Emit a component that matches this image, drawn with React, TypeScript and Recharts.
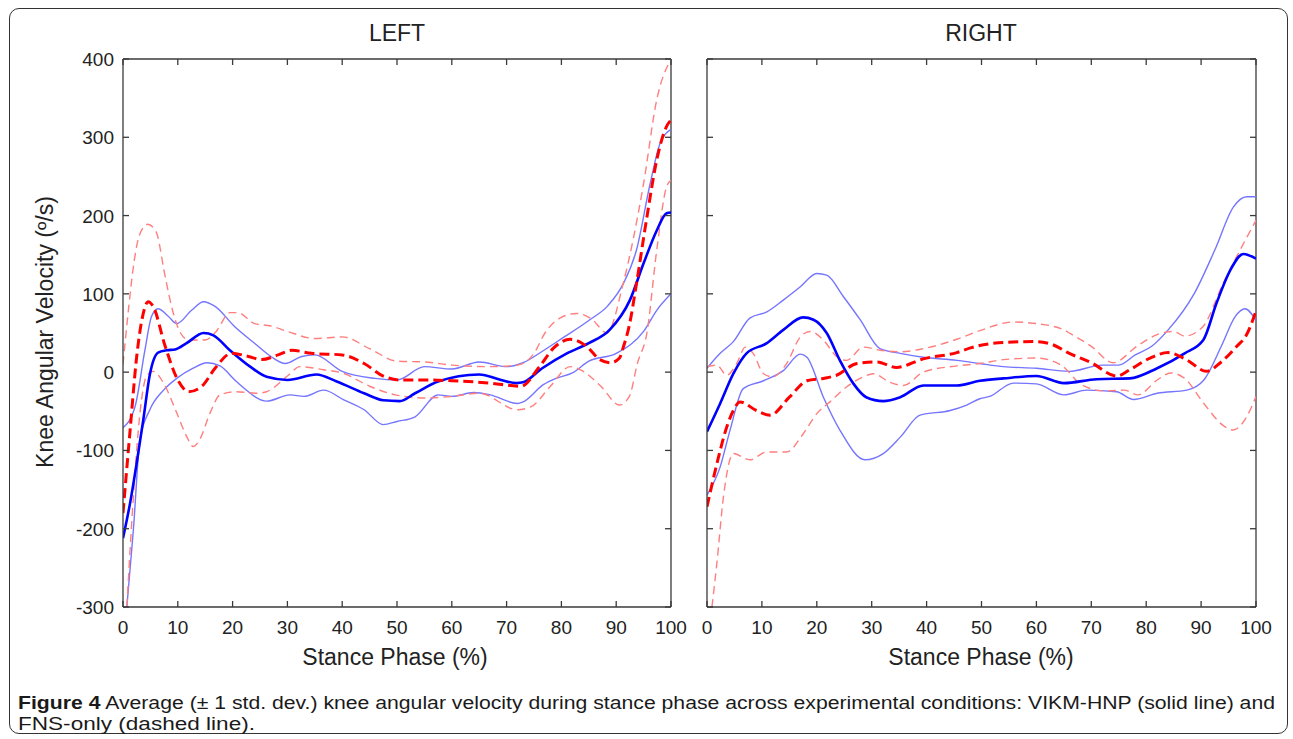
import React from 'react';
import { LineChart, Line, XAxis, YAxis, ReferenceLine } from 'recharts';

type P = [number, number][];

const xTicks = [0, 10, 20, 30, 40, 50, 60, 70, 80, 90, 100];
const yTicks = [-300, -200, -100, 0, 100, 200, 300, 400];
const panelTitles = ['LEFT', 'RIGHT'];
const xLabel = 'Stance Phase (%)';
const yLabel = 'Knee Angular Velocity (º/s)';

// LEFT panel
const leftBlueMean: P = [[0,-212],[1.3,-167],[2.5,-116],[3.7,-61],[4.9,-3],[6.4,25],[8,28],[9.5,29],[11.6,37],[14.7,50],[16.5,47],[19.5,28],[23.2,7],[26.2,-6],[30,-10],[35.3,-3],[39,-12],[44,-27],[47.5,-36],[50.5,-37],[53.3,-27],[57.5,-12],[65,-3],[69,-10],[71.8,-14],[73,-13],[76.5,5],[81,24],[85,37],[88.8,54],[92.5,92],[95,139],[97.4,181],[99.2,203],[100,204]];
const leftBlueUpper: P = [[0,-71],[2.2,-44],[4,28],[5.2,71],[6.4,81],[8.3,71],[9.8,62],[12.5,79],[14.7,90],[16.8,84],[20.4,58],[24,37],[27,20],[29.6,11],[32.6,20],[35,22],[40,1],[46,-8],[50,-10],[55,7],[60,4],[65,13],[70,7],[73,12],[76.6,27],[80.3,44],[85,66],[88.5,85],[91.3,113],[93.7,156],[96.2,241],[98,292],[100,310]];
const leftBlueLower: P = [[0.7,-300],[1.9,-201],[3.1,-86],[4.9,-48],[7.4,-23],[9.8,-8],[12.8,5],[15.3,12],[17.7,8],[20.4,-10],[22,-20],[26.2,-37],[30.5,-29],[33,-31],[36.6,-23],[40.2,-35],[44,-48],[47.5,-67],[50,-63],[53.3,-57],[57.5,-29],[60,-31],[64,-26],[67,-29],[72,-40],[73,-38],[76.7,-16],[79,-8],[82,-1],[85,14],[90,24],[95,52],[97.4,79],[100,100]];
const leftRedMean: P = [[0,-180],[1.3,-74],[2.5,20],[3.4,65],[4.6,90],[5.5,84],[7.7,33],[10,-10],[12,-25],[14.4,-18],[16.8,5],[19.8,24],[22.9,20],[25.3,16],[28.3,22],[30.8,28],[34.4,24],[40,22],[44,11],[47.5,-5],[50.5,-10],[55,-10],[60,-11],[67,-14],[72.6,-18],[76,7],[78.6,31],[81.6,42],[84.6,33],[87,16],[89,12],[90.6,18],[91.3,32],[92.4,60],[93.7,113],[95.6,198],[97.4,271],[99.2,314],[100,322]];
const leftRedUpper: P = [[0,10],[1,80],[2,140],[3,175],[4.5,189],[6,180],[7.7,122],[9,80],[10.5,50],[12,41],[15,41],[17,52],[19.5,76],[21,76],[24,62],[27,59],[30,52],[35,43],[40,45],[45,30],[50,14],[55,13],[60,9],[67,7],[72,9],[75,24],[77,50],[80,70],[82.8,75],[85.5,68],[88.3,50],[91.3,114],[95,241],[97.4,348],[100,400]];
const leftRedLower: P = [[0.7,-300],[1.9,-159],[3.1,-52],[4.3,-5],[5.5,1],[7.4,-14],[9.8,-52],[11.6,-82],[12.8,-95],[14,-86],[15.9,-52],[17.7,-29],[20.7,-25],[24.4,-27],[26.2,-25],[30,-5],[32.3,7],[36.6,3],[40,-1],[45,-18],[49.7,-29],[55,-33],[60,-31],[65,-27],[72,-48],[74.5,-44],[78,-18],[81.6,7],[83.5,3],[87.2,-18],[90.6,-42],[92.4,-31],[93.9,12],[95.6,50],[97.4,156],[99.2,237],[100,245]];

// RIGHT panel
const rightBlueMean: P = [[0,-76],[2.4,-40],[4.8,-2],[7.2,24],[10.9,37],[13.9,54],[17.5,70],[19.4,67],[21.8,50],[24.2,15],[26.7,-15],[29,-32],[32.1,-37],[35.2,-32],[39.4,-17],[45.5,-17],[49.7,-11],[54,-8],[60,-5],[65,-14],[71,-9],[77,-8],[82,5],[87,24],[90.4,41],[92.8,88],[95.3,130],[97.7,151],[100,145]];
const rightBlueUpper: P = [[0,5],[2.4,24],[4.8,39],[7.8,69],[10.9,77],[13.9,92],[17,109],[20,126],[21.8,124],[24.8,97],[27.9,67],[31.5,30],[35.2,24],[39.4,19],[45.5,15],[49.7,11],[54,7],[60,5],[66,1],[72,9],[75,9],[78,22],[81,33],[84,54],[88.8,101],[92.5,156],[95.9,211],[98.3,224],[100,224]];
const rightBlueLower: P = [[0,-157],[2.4,-121],[4.2,-74],[6.6,-21],[10.3,-11],[13.9,2],[17,23],[18.2,19],[21.2,-32],[24.2,-74],[28.8,-112],[32.1,-104],[35.2,-83],[38.8,-55],[44.3,-49],[47.3,-42],[49.7,-34],[51.5,-31],[55.8,-14],[60,-15],[65,-29],[69.2,-23],[74.6,-25],[77.7,-35],[82,-27],[87.4,-23],[90.5,-10],[93.8,35],[96.2,71],[98,81],[100,66]];
const rightRedMean: P = [[0,-172],[1.8,-117],[3.6,-70],[4.8,-49],[6,-38],[9,-49],[11.5,-55],[15,-32],[18.2,-11],[21.2,-8],[23.6,-4],[27.3,11],[30.9,13],[34.5,6],[39.4,17],[45.5,25],[48,31],[54,38],[60,39],[63,35],[66,24],[70,12],[74.6,-5],[77,3],[80.7,18],[84,25],[87.3,16],[91,1],[93.5,12],[96.5,33],[98.3,48],[100,78]];
const rightRedUpper: P = [[0,7],[1.8,9],[3.6,-4],[5.4,11],[7,32],[8.4,24],[10.3,-2],[12,-6],[14.5,11],[17,45],[18.8,52],[21.2,41],[23.6,20],[25.4,15],[28.5,32],[31.5,28],[35.2,26],[39.4,30],[45.5,42],[49.7,53],[55.8,64],[60,62],[65,54],[66,50],[70,33],[74,12],[78.3,33],[82,48],[85,52],[87,46],[90.3,58],[94,113],[97.7,164],[100,194]];
const rightRedLower: P = [[0.9,-300],[1.8,-244],[3,-159],[4.8,-104],[7.8,-112],[10.9,-102],[14.5,-102],[17.5,-79],[20,-53],[22.4,-38],[25.4,-19],[28.5,-6],[30.3,-2],[33.3,-13],[35.8,-17],[39.4,0],[45.5,8],[49.7,11],[54,16],[60,18],[64.5,9],[68.2,-16],[72.4,-24],[76,-23],[78.5,-29],[82,-10],[84.5,-1],[87,-8],[90.5,-40],[94,-68],[95.8,-74],[98.3,-57],[100,-31]];

const captionBold = 'Figure 4';
const captionLine1 = ' Average (± 1 std. dev.) knee angular velocity during stance phase across experimental conditions: VIKM-HNP (solid line) and';
const captionLine2 = 'FNS-only (dashed line).';

const toPts = (p: P) => p.map(([x, y]) => ({ x, y }));

const FONT = '"Liberation Sans", Arial, sans-serif';
const AXIS = '#3a3a3a';
const PLOT = 548;
const TICK = 6;

type Series = { blueMean: P; blueUpper: P; blueLower: P; redMean: P; redUpper: P; redLower: P };

const blueSD = { stroke: '#7575ff', strokeWidth: 1.4 };
const redSD = { stroke: '#ff7f7f', strokeWidth: 1.4, strokeDasharray: '8 5' };

function YTick(props: any) {
  const { x, y, payload, show, pw } = props;
  return (
    <g>
      <line x1={x} x2={x + TICK} y1={y} y2={y} stroke={AXIS} strokeWidth={1.3} />
      <line x1={x + pw} x2={x + pw - TICK} y1={y} y2={y} stroke={AXIS} strokeWidth={1.3} />
      {show && (
        <text x={x - 9} y={y} dy={7} textAnchor="end" fill="#222" fontSize={19} fontFamily={FONT}>{payload.value}</text>
      )}
    </g>
  );
}

function XTick(props: any) {
  const { x, y, payload } = props;
  return (
    <g>
      <line x1={x} x2={x} y1={y} y2={y - TICK} stroke={AXIS} strokeWidth={1.3} />
      <line x1={x} x2={x} y1={y - PLOT} y2={y - PLOT + TICK} stroke={AXIS} strokeWidth={1.3} />
      <text x={x} y={y + 27} textAnchor="middle" fill="#222" fontSize={19} fontFamily={FONT}>{payload.value}</text>
    </g>
  );
}

function Panel({ s, width, margin, yLabels, pw }: { s: Series; width: number; margin: any; yLabels: boolean; pw: number }) {
  return (
    <LineChart width={width} height={680} margin={margin}>
      <XAxis xAxisId="b" dataKey="x" type="number" domain={[0, 100]} ticks={xTicks} allowDataOverflow
        orientation="bottom" height={30} tickSize={0} tickMargin={0} tickLine={false} stroke={AXIS} strokeWidth={1.3}
        tick={<XTick />} interval={0} />
      <YAxis yAxisId="l" type="number" domain={[-300, 400]} ticks={yTicks} allowDataOverflow
        orientation="left" width={60} tickSize={0} tickMargin={0} tickLine={false} stroke={AXIS} strokeWidth={1.3}
        tick={<YTick show={yLabels} pw={pw} />} interval={0} />
      <ReferenceLine xAxisId="b" yAxisId="l" y={400} stroke={AXIS} strokeWidth={1.3} ifOverflow="visible" />
      <ReferenceLine xAxisId="b" yAxisId="l" x={100} stroke={AXIS} strokeWidth={1.3} ifOverflow="visible" />
      {([
        [s.blueUpper, blueSD], [s.blueLower, blueSD],
        [s.redUpper, redSD], [s.redLower, redSD],
        [s.blueMean, { stroke: '#0000ff', strokeWidth: 2.6 }],
        [s.redMean, { stroke: '#ff0000', strokeWidth: 3, strokeDasharray: '10 5' }],
      ] as [P, any][]).map(([d, st], i) => (
        <Line key={i} xAxisId="b" yAxisId="l" data={toPts(d)} dataKey="y" type="monotone"
          dot={false} activeDot={false} isAnimationActive={false} {...st} />
      ))}
    </LineChart>
  );
}

const leftS: Series = { blueMean: leftBlueMean, blueUpper: leftBlueUpper, blueLower: leftBlueLower, redMean: leftRedMean, redUpper: leftRedUpper, redLower: leftRedLower };
const rightS: Series = { blueMean: rightBlueMean, blueUpper: rightBlueUpper, blueLower: rightBlueLower, redMean: rightRedMean, redUpper: rightRedUpper, redLower: rightRedLower };

export default function App() {
  const txt: React.CSSProperties = { position: 'absolute', fontFamily: FONT, color: '#222', whiteSpace: 'nowrap', lineHeight: '26px' };
  return (
    <div style={{ position: 'absolute', left: 0, top: 0, width: 1293, height: 739, background: '#fff', overflow: 'hidden' }}>
      <div style={{ position: 'absolute', left: 9, top: 8, width: 1279, height: 726, border: '1.5px solid #333', borderRadius: 10, boxSizing: 'border-box' }} />
      <div style={{ position: 'absolute', left: 0, top: 0 }}>
        <Panel s={leftS} width={690} margin={{ top: 59, right: 19, left: 63, bottom: 43 }} yLabels pw={548} />
      </div>
      <div style={{ position: 'absolute', left: 600, top: 0 }}>
        <Panel s={rightS} width={690} margin={{ top: 59, right: 34, left: 47, bottom: 43 }} yLabels={false} pw={549} />
      </div>
      <div style={{ ...txt, left: 297, width: 200, textAlign: 'center', top: 20, fontSize: 23 }}>{panelTitles[0]}</div>
      <div style={{ ...txt, left: 881, width: 200, textAlign: 'center', top: 20, fontSize: 23 }}>{panelTitles[1]}</div>
      <div style={{ ...txt, left: 245, width: 300, textAlign: 'center', top: 644, fontSize: 23 }}>{xLabel}</div>
      <div style={{ ...txt, left: 831, width: 300, textAlign: 'center', top: 644, fontSize: 23 }}>{xLabel}</div>
      <div style={{ ...txt, left: 45 - 200, top: 332 - 13, width: 400, textAlign: 'center', fontSize: 23, transform: 'rotate(-90deg)' }}>{yLabel}</div>
      <svg style={{ position: 'absolute', left: 0, top: 680 }} width={1293} height={59}>
        <text x={18} y={29} fontFamily={FONT} fontSize={17.5} fill="#1a1a1a" textLength={1257} lengthAdjust="spacingAndGlyphs">
          <tspan fontWeight="bold">{captionBold}</tspan>
          <tspan>{captionLine1}</tspan>
        </text>
        <text x={18} y={50} fontFamily={FONT} fontSize={17.5} fill="#1a1a1a" textLength={237} lengthAdjust="spacingAndGlyphs">{captionLine2}</text>
      </svg>
    </div>
  );
}
